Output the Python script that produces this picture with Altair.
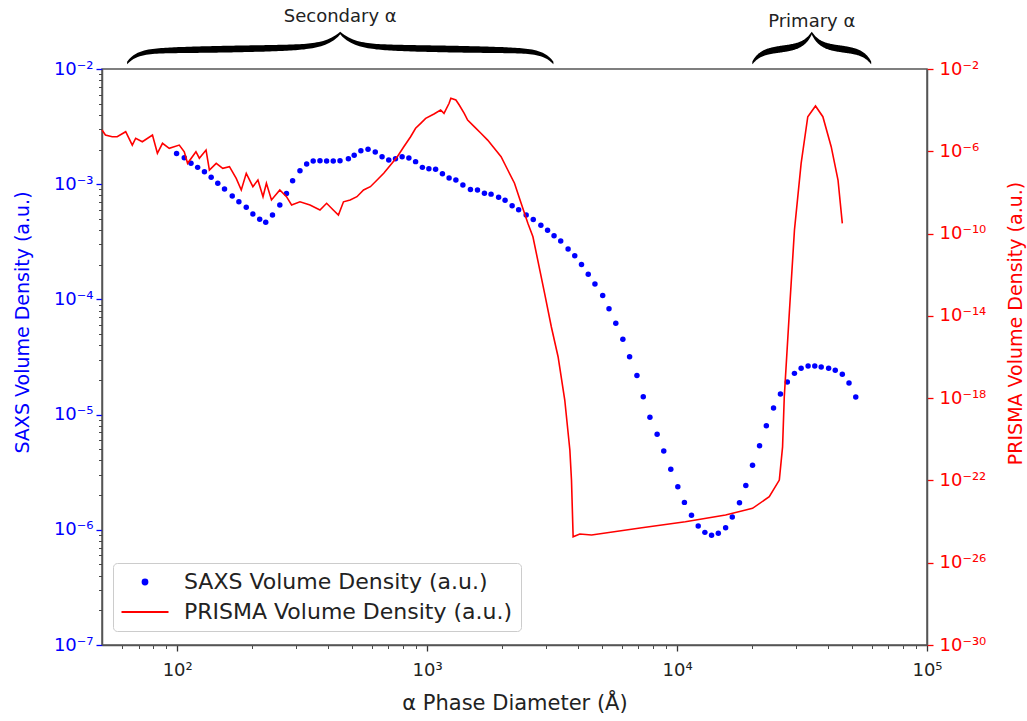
import math
import altair as alt
import pandas as pd

# ---------------- data ----------------
saxs_d = [99.4, 106.7, 113.5, 120.7, 128.5, 136.7, 145.3, 154.6, 166, 176.5,
          188.9, 200.8, 213.8, 226, 240.5, 257.3, 273.6, 289.5, 309.8, 329.5,
          350, 372.5, 396, 421, 448, 484, 510.5, 543, 580, 620,
          660, 702, 747, 794, 845, 899, 957, 1016, 1081, 1151,
          1224, 1303, 1390, 1490, 1590, 1695, 1802, 1932, 2050, 2188,
          2323, 2490, 2658, 2851, 3033, 3219, 3423, 3664, 3896, 4146,
          4411, 4692, 5040, 5341, 5686, 6068, 6457, 6909, 7324, 7787,
          8322, 8846, 9438, 10070, 10700, 11420, 12150, 12920, 13740, 14620,
          15640, 16630, 17770, 18840, 20040, 21380, 22760, 24320, 25920, 27610,
          29490, 31360, 33440, 35560, 37730, 40400, 42950, 45830, 48750, 51880]
saxs_v = [1.85e-3, 1.70e-3, 1.52e-3, 1.40e-3, 1.28e-3, 1.15e-3, 1.02e-3, 9.1e-4, 7.9e-4, 7.05e-4,
          6.3e-4, 5.5e-4, 4.96e-4, 4.67e-4, 5.4e-4, 6.6e-4, 8.3e-4, 1.07e-3, 1.31e-3, 1.50e-3,
          1.59e-3, 1.60e-3, 1.59e-3, 1.59e-3, 1.60e-3, 1.66e-3, 1.78e-3, 1.95e-3, 2.01e-3, 1.90e-3,
          1.73e-3, 1.62e-3, 1.66e-3, 1.73e-3, 1.69e-3, 1.57e-3, 1.40e-3, 1.36e-3, 1.35e-3, 1.23e-3,
          1.13e-3, 1.09e-3, 9.85e-4, 9.0e-4, 8.9e-4, 8.35e-4, 8.2e-4, 7.7e-4, 7.25e-4, 6.5e-4,
          6.0e-4, 5.4e-4, 4.93e-4, 4.40e-4, 3.98e-4, 3.57e-4, 3.21e-4, 2.74e-4, 2.39e-4, 2.01e-4,
          1.65e-4, 1.36e-4, 1.08e-4, 8.3e-5, 6.2e-5, 4.5e-5, 3.18e-5, 2.18e-5, 1.43e-5, 9.5e-6,
          6.76e-6, 4.83e-6, 3.35e-6, 2.36e-6, 1.73e-6, 1.34e-6, 1.08e-6, 9.5e-7, 8.95e-7, 9.33e-7,
          1.04e-6, 1.29e-6, 1.72e-6, 2.42e-6, 3.63e-6, 5.36e-6, 8.0e-6, 1.14e-5, 1.51e-5, 1.92e-5,
          2.28e-5, 2.52e-5, 2.64e-5, 2.64e-5, 2.59e-5, 2.52e-5, 2.43e-5, 2.24e-5, 1.88e-5, 1.42e-5]

prisma_d = [50, 51.6, 54.9, 57.5, 62.2, 66.1, 68.2, 72.5, 79.6, 83.3,
            87.3, 92.9, 101.9, 106.7, 110, 118.8, 122.6, 130.4, 134.5, 143.2,
            152.1, 161.8, 172.2, 180.4, 188.9, 200.8, 210.3, 220.4, 227.4, 238.3,
            257.3, 273.6, 286.8, 309.8, 339.8, 372.5, 396, 421, 441.5, 462.6,
            492, 523.6, 556.6, 592.6, 630.5, 670.3, 713.6, 759.5, 806.5, 858.5,
            899, 942, 986.5, 1065, 1132, 1168, 1224, 1244, 1303, 1344,
            1407, 1452, 1543, 1641, 1746, 1856, 1976, 2102, 2236, 2377,
            2529, 2650, 2951, 3139, 3341, 3553, 3724, 3780, 3838, 4081,
            4548, 7230, 10790, 15630, 20040, 23380, 25650, 26430, 26850, 28120,
            29490, 31360, 33340, 35800, 38310, 41370, 44050, 45830]
prisma_v = [1.08e-5, 6.2e-6, 5.1e-6, 5.1e-6, 8.95e-6, 2.0e-6, 4.3e-6, 2.9e-6, 6.2e-6, 8.0e-7,
            2.44e-6, 1.40e-6, 2.0e-6, 9.5e-7, 2.6e-7, 9.5e-7, 4.6e-7, 1.15e-6, 1.23e-7, 2.6e-7,
            1.49e-7, 1.78e-7, 4.85e-8, 1.31e-8, 8.5e-8, 1.9e-8, 4.0e-8, 6.2e-9, 2.8e-8, 4.3e-9,
            1.31e-8, 6.2e-9, 2.44e-9, 3.5e-9, 2.44e-9, 1.4e-9, 2.96e-9, 1.4e-9, 8.0e-10, 3.5e-9,
            4.3e-9, 6.2e-9, 1.31e-8, 1.9e-8, 4.0e-8, 8.5e-8, 2.15e-7, 5.45e-7, 1.67e-6, 5.1e-6,
            1.31e-5, 2.29e-5, 4.0e-5, 6.5e-5, 1.02e-4, 7.0e-5, 2.15e-4, 3.77e-4, 3.11e-4, 1.78e-4,
            7.0e-5, 3.3e-5, 1.57e-5, 7.5e-6, 3.5e-6, 1.40e-6, 5.45e-7, 1.23e-7, 2.8e-8, 2.96e-9,
            3.15e-10, 7.0e-11, 1.25e-13, 2.96e-15, 1.03e-16, 8.1e-19, 3.0e-21, 1.04e-22, 1.83e-25, 2.48e-25,
            2.22e-25, 5.0e-25, 9.8e-25, 2.08e-24, 4.4e-24, 1.61e-23, 1.04e-22, 4.3e-21, 1.17e-18, 1.33e-14,
            1.49e-10, 2.6e-7, 4.8e-5, 1.59e-4, 4.8e-5, 1.67e-6, 4.0e-8, 3.15e-10]

SAXS = "SAXS Volume Density (a.u.)"
PRISMA = "PRISMA Volume Density (a.u.)"
series_names = [SAXS, PRISMA]
series_colors = ["blue", "red"]

x_major = [100, 1000, 10000, 100000]
left_major = [1e-7, 1e-6, 1e-5, 1e-4, 1e-3, 1e-2]
right_major = [1e-30, 1e-26, 1e-22, 1e-18, 1e-14, 1e-10, 1e-6, 1e-2]

# brace annotations (x-extent in Å)
brace_names = ["Secondary α", "Primary α"]
brace_lo = [63, 20000]
brace_hi = [3200, 59800]
brace_label_h = [52, 47]

X_DOMAIN = [50, 1e5]
LEFT_DOMAIN = [1e-7, 1e-2]
RIGHT_DOMAIN = [1e-30, 1e-2]
W, H = 825, 576
FONT = "DejaVu Sans"

# ---------------- derived tables ----------------
saxs_df = pd.DataFrame({"d": saxs_d, "v": saxs_v, "series": SAXS})
prisma_df = pd.DataFrame({"d": prisma_d, "v": prisma_v, "series": PRISMA})

px_per_dec = W / math.log10(X_DOMAIN[1] / X_DOMAIN[0])
rows = []
for name, lo, hi, a, b in zip(brace_names, brace_lo, brace_hi, [10, 8], [14, 8]):
    l0, l1 = math.log10(lo), math.log10(hi)
    L = (l1 - l0) * px_per_dec / 2
    n = 201
    for i in range(n):
        f = i / (n - 1)
        pa = f * 2 * L
        p = pa if pa <= L else 2 * L - pa
        c = 6 + 12 * (1 - math.exp(-p / a)) + 4 * p / L + 14 * math.exp(-(L - p) / b)
        th = 2.5 + 4.2 * max(0.0, math.sin(math.pi * p / L)) ** 0.5
        rows.append({"brace": name, "d": 10 ** (l0 + f * (l1 - l0)),
                     "lo": c - th / 2, "hi": c + th / 2})
brace_df = pd.DataFrame(rows)
text_df = pd.DataFrame({
    "label": brace_names,
    "d": [math.sqrt(lo * hi) for lo, hi in zip(brace_lo, brace_hi)],
    "h": brace_label_h,
})

# tick helpers
def minors(decades):
    return [k * 10 ** n for n in decades for k in range(2, 10)]

x_values = [60, 70, 80, 90] + x_major + minors([2, 3, 4])
left_values = left_major + minors([-7, -6, -5, -4, -3])

SUP = {"-": "⁻", "0": "⁰", "1": "¹", "2": "²", "3": "³", "4": "⁴",
       "5": "⁵", "6": "⁶", "7": "⁷", "8": "⁸", "9": "⁹"}
exp_s = "toString(round(log(datum.value)/LN10))"
for k, v in SUP.items():
    exp_s = f"replace({exp_s}, regexp('{k}', 'g'), '{v}')"
is_major = "abs(log(datum.value)/LN10 - round(log(datum.value)/LN10)) < 0.001"
label_expr = f"({is_major}) ? '10' + {exp_s} : ''"

x_scale = alt.Scale(type="log", domain=X_DOMAIN, nice=False)
pix_scale = alt.Scale(domain=[0, 60], range=[0, -60], nice=False, zero=False)

x_axis = alt.Axis(
    values=x_values, labelExpr=label_expr, orient="bottom",
    tickSize={"condition": {"test": is_major, "value": 6}, "value": 3.5},
    tickWidth={"condition": {"test": is_major, "value": 1.3}, "value": 0.9},
    tickColor="#333", labelColor="#222", labelFontSize=18, labelFont=FONT,
    labelPadding=10, labelFlush=False, labelOverlap=False,
    domainColor="#555", domainWidth=1.5, grid=False,
    title="α Phase Diameter (Å)", titleFontSize=21, titleFont=FONT,
    titleFontWeight="normal", titleColor="#222", titleY=58, titleBaseline="middle",
)
left_axis = alt.Axis(
    values=left_values, labelExpr=label_expr, orient="left",
    tickSize={"condition": {"test": is_major, "value": 6}, "value": 3.5},
    tickWidth={"condition": {"test": is_major, "value": 1.3}, "value": 0.9},
    tickColor={"condition": {"test": is_major, "value": "blue"}, "value": "#333"},
    labelColor="blue", labelFontSize=18, labelFont=FONT, labelPadding=3,
    labelFlush=False, labelOverlap=False,
    domainColor="#555", domainWidth=1.5, grid=False,
    title=SAXS, titleColor="blue", titleFontSize=19, titleFont=FONT,
    titleFontWeight="normal", titleAngle=270, titleX=-80, titleY=253,
    titleAlign="center", titleBaseline="middle",
)
right_axis = alt.Axis(
    values=right_major, labelExpr=label_expr, orient="right",
    tickSize=6, tickWidth=1.3, tickColor="red",
    labelColor="red", labelFontSize=18, labelFont=FONT, labelPadding=6,
    labelFlush=False, labelOverlap=False,
    domainColor="#555", domainWidth=1.5, grid=False,
    title=PRISMA, titleColor="red", titleFontSize=19, titleFont=FONT,
    titleFontWeight="normal", titleAngle=270, titleX=88, titleY=254,
    titleAlign="center", titleBaseline="middle",
)

legend = alt.Legend(
    title=None, orient="none", legendX=11, legendY=494,
    labelFontSize=22, labelFont=FONT, labelColor="#222", labelLimit=500,
    symbolType={"expr": f"datum.value === '{SAXS}' ? 'circle' : 'M-9.4,0H9.4'"},
    symbolStrokeColor={"expr": f"datum.value === '{SAXS}' ? 'blue' : 'red'"},
    symbolSize=25, symbolStrokeWidth=1.8, symbolOffset=13, labelOffset=28,
    padding=8, rowPadding=8, fillColor="white", strokeColor="#cccccc",
    cornerRadius=4,
)
color_scale = alt.Scale(domain=series_names, range=series_colors)

saxs = alt.Chart(saxs_df).mark_circle(size=30, opacity=1).encode(
    x=alt.X("d:Q", scale=x_scale, axis=x_axis),
    y=alt.Y("v:Q", scale=alt.Scale(type="log", domain=LEFT_DOMAIN, nice=False), axis=left_axis),
    color=alt.Color("series:N", scale=color_scale, legend=legend),
)
prisma = alt.Chart(prisma_df).mark_line(strokeWidth=1.6).encode(
    x=alt.X("d:Q", scale=x_scale, axis=x_axis),
    y=alt.Y("v:Q", scale=alt.Scale(type="log", domain=RIGHT_DOMAIN, nice=False), axis=right_axis),
    color=alt.Color("series:N", scale=color_scale, legend=legend),
)
brace = alt.Chart(brace_df).mark_area(color="black").encode(
    x=alt.X("d:Q", scale=x_scale, axis=x_axis),
    y=alt.Y("lo:Q", scale=pix_scale, axis=None),
    y2="hi:Q",
    detail="brace:N",
)
labels = alt.Chart(text_df).mark_text(fontSize=18, font=FONT, color="#222",
                                      baseline="middle", align="center").encode(
    x=alt.X("d:Q", scale=x_scale, axis=x_axis),
    y=alt.Y("h:Q", scale=pix_scale, axis=None),
    text="label:N",
)

chart = alt.layer(saxs, prisma, brace, labels).resolve_scale(
    y="independent"
).properties(
    width=W, height=H,
    autosize=alt.AutoSizeParams(type="none"),
    padding={"left": 102, "top": 69, "right": 100, "bottom": 76},
).configure(
    font=FONT
).configure_view(
    stroke="#555", strokeWidth=1.5
)

chart.save("out.html", embed_options={"renderer": "svg", "actions": False})
